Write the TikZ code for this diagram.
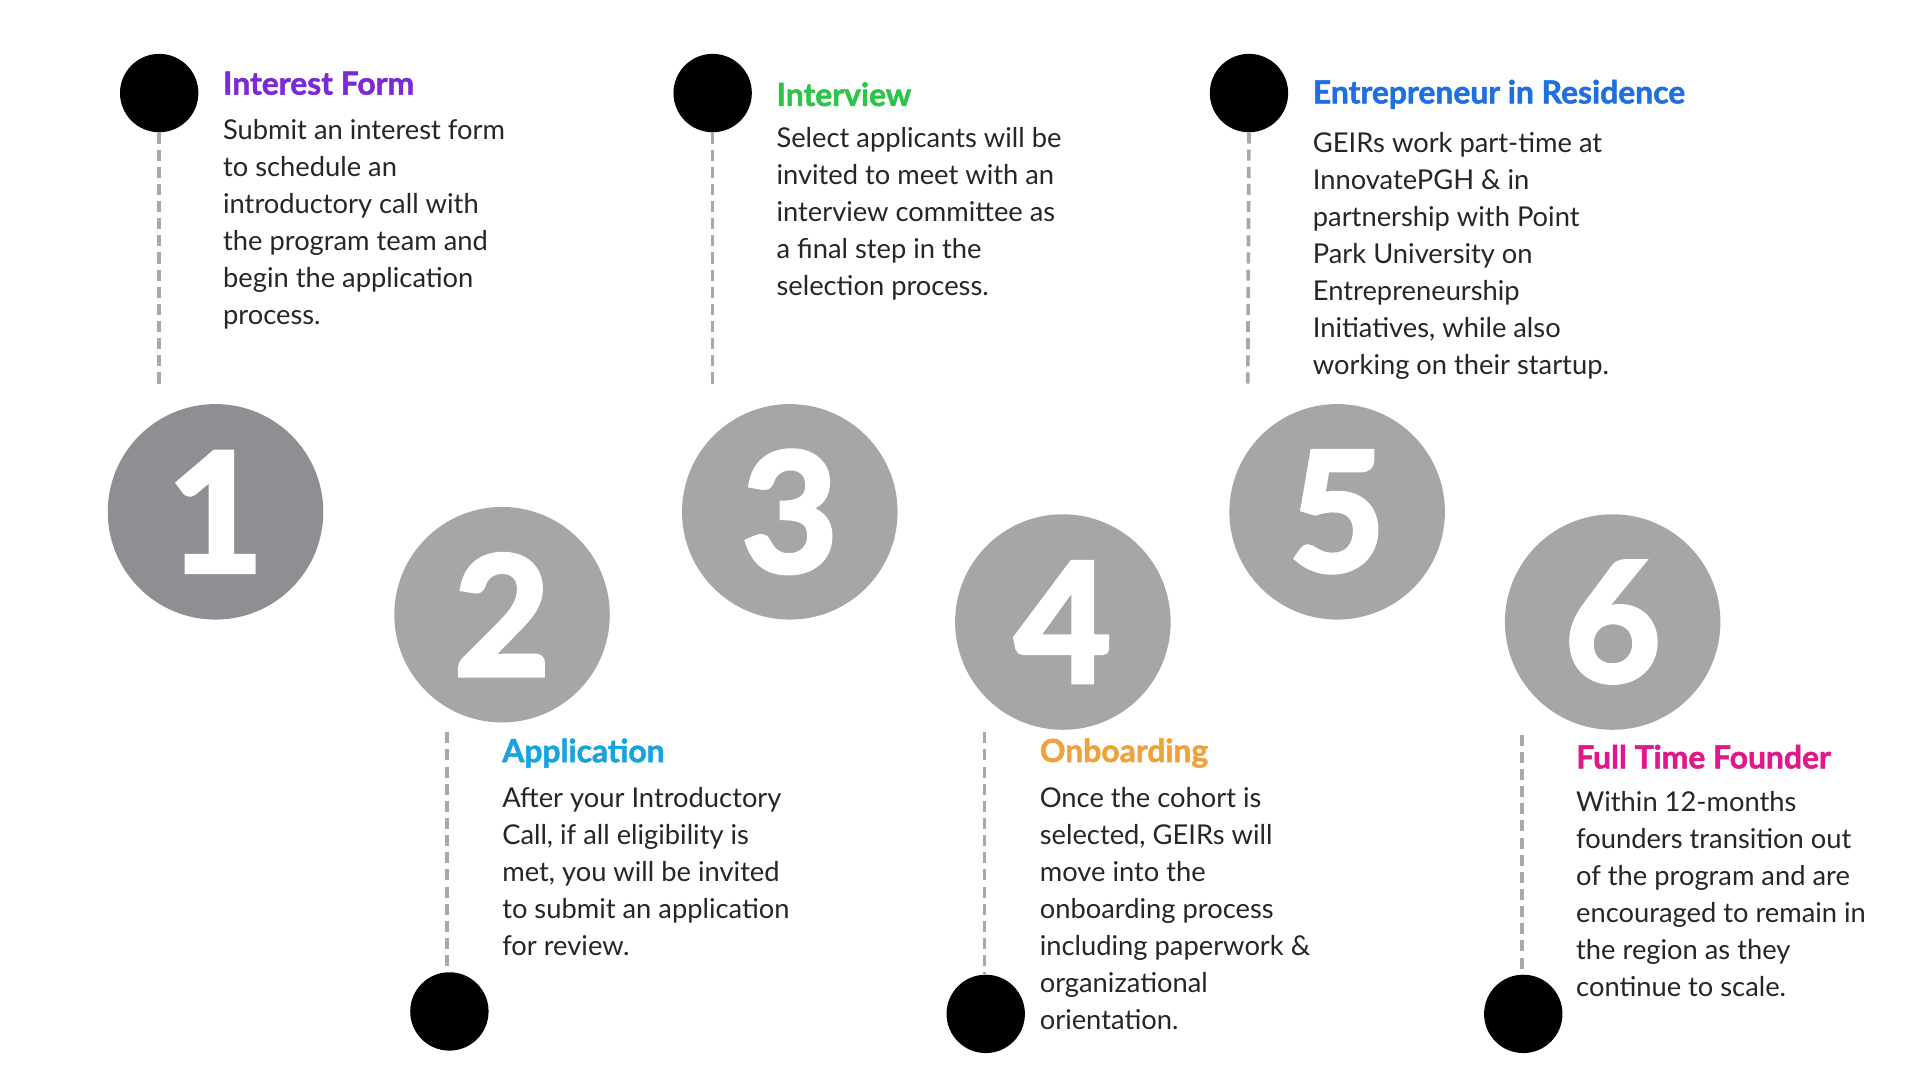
\documentclass[tikz,border=0pt]{standalone}
\usepackage{fontspec}
\setmainfont{Lato}
\newfontfamily\numfont[FakeBold=3]{Lato Bold}
\newfontfamily\ttlfont[FakeBold=1.5]{Lato Bold}
\definecolor{gA}{HTML}{8E8F93}
\definecolor{gB}{HTML}{A6A6A6}
\definecolor{dash}{HTML}{A8A8A8}
\definecolor{cP}{HTML}{7B2AD6}
\definecolor{cG}{HTML}{2DC44A}
\definecolor{cB}{HTML}{1F6FE0}
\definecolor{cC}{HTML}{16A3DE}
\definecolor{cO}{HTML}{EFA23A}
\definecolor{cM}{HTML}{E0188C}
\tikzset{
  big/.style={circle,minimum size=176pt,inner sep=0pt,fill=gB,text=white,font=\numfont\fontsize{135}{135}\selectfont},
  dot/.style={circle,minimum size=64pt,inner sep=0pt,fill=black},
  dl/.style={draw=dash,line width=3pt,dash pattern=on 9pt off 5pt},
  ttl/.style={anchor=west,inner sep=0pt,font=\ttlfont\fontsize{26}{26}\selectfont},
  body/.style={anchor=north west,inner sep=0pt,align=left,font=\fontsize{22.3}{30.2}\selectfont,text=black!85}
}
\begin{document}
\begin{tikzpicture}[x=1pt,y=-1pt]
\useasboundingbox[fill=white] (0,0) rectangle (1568,882);
\node[big,fill=gA] (n1) at (176,418) {1};
\node[big] (n2) at (410,502) {2};
\node[big] (n3) at (645,418) {3};
\node[big] (n4) at (868,508) {4};
\node[big] (n5) at (1092,418) {5};
\node[big] (n6) at (1317,508) {6};
\node[dot] (d1) at (130,76) {};
\node[dot] (d3) at (582,76) {};
\node[dot] (d5) at (1020,76) {};
\node[dot] (d2) at (367,826) {};
\node[dot] (d4) at (805,828) {};
\node[dot] (d6) at (1244,828) {};
\coordinate (e1) at (130,317);
\coordinate (e3) at (582,317);
\coordinate (e5) at (1019,317);
\coordinate (e2) at (365,598);
\coordinate (e4) at (804,598);
\coordinate (e6) at (1243,600);
\draw[dl] (d1.south) -- (e1);
\draw[dl] (d3.south) -- (e3);
\draw[dl] (d5.south) -- (e5);
\draw[dl] (e2) -- (d2.north -| e2);
\draw[dl] (e4) -- (d4.north -| e4);
\draw[dl] (e6) -- (d6.north -| e6);
\node[ttl,text=cP] (t1) at (182,68) {Interest Form};
\node[ttl,text=cG] (t3) at (634,77) {Interview};
\node[ttl,text=cB] (t5) at (1072,77) {Entrepreneur in Residence};
\node[ttl,text=cC] (t2) at (410,615) {Application};
\node[ttl,text=cO] (t4) at (849,615) {Onboarding};
\node[ttl,text=cM] (t6) at (1287,618) {Full Time Founder};
\node[body] (b1) at (182,97) {Submit an interest form\\to schedule an\\introductory call with\\the program team and\\begin the application\\process.};
\node[body] (b3) at (634,104) {Select applicants will be\\invited to meet with an\\interview committee as\\a final step in the\\selection process.};
\node[body] (b5) at (1072,108) {GEIRs work part-time at\\InnovatePGH \& in\\partnership with Point\\Park University on\\Entrepreneurship\\Initiatives, while also\\working on their startup.};
\node[body] (b2) at (410,643) {After your Introductory\\Call, if all eligibility is\\met, you will be invited\\to submit an application\\for review.};
\node[body] (b4) at (849,643) {Once the cohort is\\selected, GEIRs will\\move into the\\onboarding process\\including paperwork \&\\organizational\\orientation.};
\node[body] (b6) at (1287,646) {Within 12-months\\founders transition out\\of the program and are\\encouraged to remain in\\the region as they\\continue to scale.};
\end{tikzpicture}
\end{document}
